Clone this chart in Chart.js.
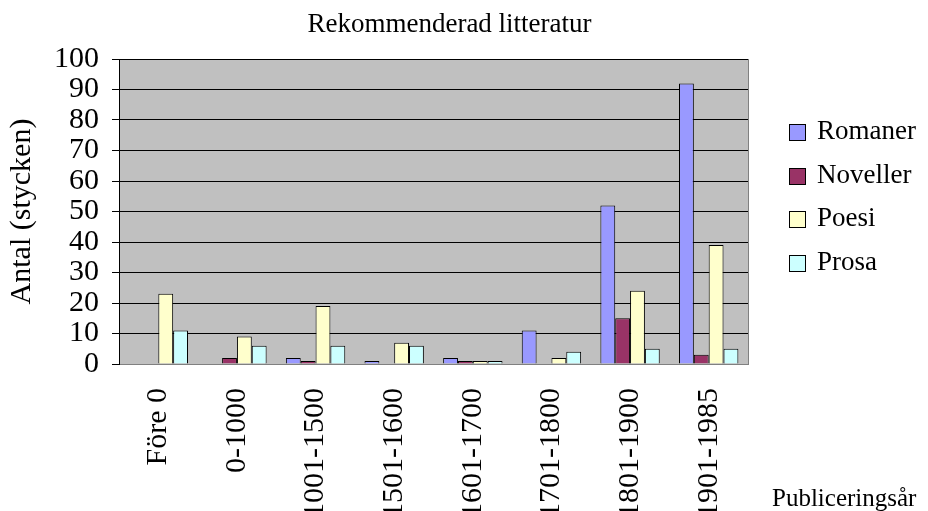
<!DOCTYPE html>
<html><head><meta charset="utf-8">
<script src="https://cdn.jsdelivr.net/npm/chart.js@4.4.0/dist/chart.umd.min.js"></script>
<style>html,body{margin:0;padding:0;background:#fff}#wrap{width:928px;height:511px;position:relative}</style>
</head><body><div id="wrap"><canvas id="c" width="928" height="511"></canvas></div>
<script>
const categories = ['Före 0','0-1000','1001-1500','1501-1600','1601-1700','1701-1800','1801-1900','1901-1985'];
const romaner  = [0, 0, 2, 1, 2, 11, 52, 92];
const noveller = [0, 2, 1, 0, 1, 0, 15, 3];
const poesi    = [23, 9, 19, 7, 1, 2, 24, 39];
const prosa    = [11, 6, 6, 6, 1, 4, 5, 5];
const seriesNames = ['Romaner','Noveller','Poesi','Prosa'];
const yTickValues = [0,10,20,30,40,50,60,70,80,90,100];
const titleText = 'Rekommenderad litteratur';
const yTitleText = 'Antal (stycken)';
const xTitleText = 'Publiceringsår';

const FONT = "'Liberation Serif', 'Times New Roman', serif";
const FS = 27;
const TICKFS = 30;
const colors = ['#9999ff','#993366','#ffffcc','#ccffff'];
const seriesData = [romaner, noveller, poesi, prosa];

const plotBg = {
  id:'plotBg',
  beforeDraw(chart){
    const {ctx, chartArea:a} = chart;
    ctx.save(); ctx.fillStyle = '#c0c0c0';
    ctx.fillRect(a.left, a.top, a.right-a.left, a.bottom-a.top);
    ctx.restore();
  },
  beforeDatasetsDraw(chart){
    const {ctx, chartArea:a} = chart;
    ctx.save(); ctx.strokeStyle = '#808080'; ctx.lineWidth = 1;
    ctx.beginPath();
    ctx.moveTo(Math.round(a.right)+0.5, a.top); ctx.lineTo(Math.round(a.right)+0.5, a.bottom);
    ctx.stroke(); ctx.restore();
  },
  afterDraw(chart){
    const {ctx} = chart;
    ctx.save();
    ctx.fillStyle = '#000';
    ctx.font = FS + 'px ' + FONT;
    ctx.textAlign = 'center'; ctx.textBaseline = 'middle';
    ctx.fillText(titleText, 449.5, 25);
    ctx.textBaseline = 'middle'; ctx.textAlign = 'left';
    chart.data.datasets.forEach((ds,i)=>{
      const cy = 132 + i*43.5;
      ctx.fillStyle = ds.backgroundColor;
      ctx.fillRect(789.5, Math.round(cy-8)+0.5, 16, 16);
      ctx.strokeStyle = '#000'; ctx.lineWidth = 1;
      ctx.strokeRect(789.5, Math.round(cy-8)+0.5, 16, 16);
      ctx.fillStyle = '#000';
      ctx.fillText(ds.label, 817, cy);
    });
    ctx.font = '25px ' + FONT;
    ctx.textBaseline = 'alphabetic';
    ctx.fillText(xTitleText, 772, 506);
    ctx.restore();
  }
};

new Chart(document.getElementById('c'), {
  type:'bar',
  data:{
    labels: categories,
    datasets: seriesNames.map((n,i)=>({
      label:n, data:seriesData[i], backgroundColor:colors[i],
      borderColor:'#000', borderWidth:1, borderSkipped:'bottom',
      categoryPercentage:0.755, barPercentage:1.0
    }))
  },
  options:{
    responsive:false, animation:false,
    layout:{padding:{left:0,right:180,top:59,bottom:0}},
    plugins:{
      legend:{display:false}, tooltip:{enabled:false}, title:{display:false}
    },
    scales:{
      x:{
        grid:{display:false, drawTicks:false},
        border:{display:true, color:'#808080', width:1},
        ticks:{color:'#000', font:{family:FONT, size:TICKFS}, minRotation:90, maxRotation:90, padding:24, autoSkip:false},
        afterFit(s){ s.height = 147; }
      },
      y:{
        min:0, max:100,
        afterBuildTicks(s){ s.ticks = yTickValues.map(v=>({value:v})); },
        grid:{color:'#000', lineWidth:1, drawTicks:true, tickLength:7, tickColor:'#000'},
        border:{display:true, color:'#000', width:1},
        ticks:{color:'#000', font:{family:FONT, size:TICKFS}, padding:13, autoSkip:false, stepSize:10},
        title:{display:true, text:yTitleText, color:'#000', font:{family:FONT, size:30, lineHeight:1.2}, padding:{top:4,bottom:0}},
        afterFit(s){ s.width = 119; }
      }
    }
  },
  plugins:[plotBg]
});
</script></body></html>
